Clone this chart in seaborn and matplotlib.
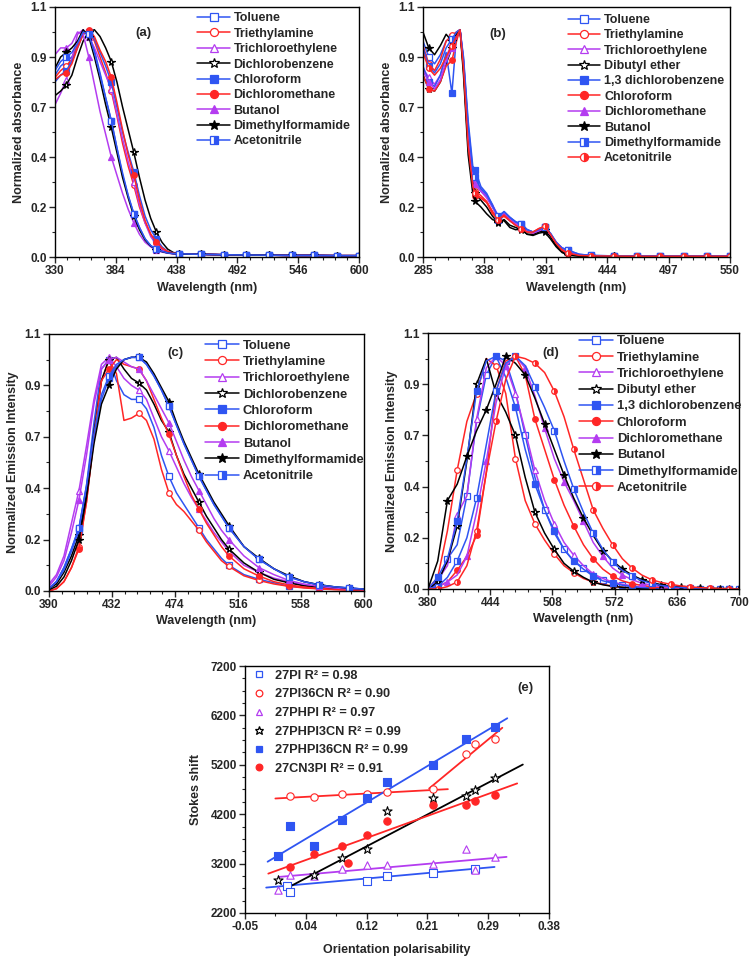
import numpy as np
import matplotlib
matplotlib.use("Agg")
import matplotlib.pyplot as plt
from matplotlib.lines import Line2D
from matplotlib.ticker import FixedLocator, AutoMinorLocator, FormatStrFormatter
import seaborn as sns

sns.set_style("white")
plt.rcParams['font.family'] = ['Liberation Sans', 'DejaVu Sans']
plt.rcParams['font.weight'] = 'bold'
plt.rcParams['axes.labelweight'] = 'bold'

# ---------------- Panel (a): absorbance ----------------
WL_A = [330, 335, 340, 345, 350, 355, 360, 365, 370, 375, 380, 385, 390, 395, 400, 405,
        410, 415, 420, 425, 430, 435, 440, 460, 480, 500, 520, 540, 560, 580, 600]
MARKS_A = [340, 360, 380, 400, 420, 440, 460, 480, 500, 520, 540, 560, 580, 600]
a_toluene = [0.80, 0.84, 0.86, 0.88, 0.93, 0.99, 0.98, 0.91, 0.81, 0.70, 0.60, 0.48, 0.36, 0.27, 0.19, 0.13,
             0.08, 0.05, 0.035, 0.025, 0.018, 0.015, 0.014, 0.012, 0.010, 0.009, 0.008, 0.007, 0.007, 0.006, 0.006]
a_triethylamine = [0.79, 0.82, 0.84, 0.87, 0.93, 0.99, 0.99, 0.95, 0.88, 0.81, 0.73, 0.62, 0.50, 0.40, 0.315, 0.22,
                   0.15, 0.10, 0.06, 0.035, 0.022, 0.016, 0.014, 0.012, 0.010, 0.009, 0.008, 0.007, 0.007, 0.006, 0.006]
a_trichloroethylene = [0.67, 0.72, 0.78, 0.87, 0.98, 1.00, 0.97, 0.92, 0.86, 0.80, 0.74, 0.63, 0.52, 0.42, 0.33, 0.23,
                       0.15, 0.09, 0.055, 0.03, 0.02, 0.015, 0.013, 0.012, 0.010, 0.009, 0.008, 0.007, 0.007, 0.006, 0.006]
a_dichlorobenzene = [0.71, 0.73, 0.757, 0.80, 0.88, 0.95, 0.99, 1.00, 0.97, 0.92, 0.86, 0.77, 0.66, 0.56, 0.46, 0.35,
                     0.25, 0.17, 0.11, 0.065, 0.035, 0.02, 0.015, 0.012, 0.010, 0.009, 0.008, 0.007, 0.007, 0.006, 0.006]
a_chloroform = [0.77, 0.80, 0.82, 0.86, 0.92, 0.98, 0.99, 0.96, 0.90, 0.84, 0.77, 0.66, 0.55, 0.46, 0.375, 0.27,
                0.18, 0.12, 0.08, 0.045, 0.025, 0.017, 0.014, 0.012, 0.010, 0.009, 0.008, 0.007, 0.007, 0.006, 0.006]
a_dichloromethane = [0.78, 0.80, 0.81, 0.85, 0.92, 0.98, 1.00, 0.97, 0.91, 0.86, 0.79, 0.68, 0.56, 0.45, 0.36, 0.25,
                     0.16, 0.10, 0.067, 0.04, 0.025, 0.017, 0.014, 0.012, 0.010, 0.009, 0.008, 0.007, 0.007, 0.006, 0.006]
a_butanol = [0.89, 0.92, 0.92, 0.94, 0.99, 0.98, 0.88, 0.76, 0.64, 0.54, 0.44, 0.36, 0.28, 0.21, 0.15, 0.10,
             0.065, 0.045, 0.03, 0.022, 0.017, 0.014, 0.013, 0.012, 0.010, 0.009, 0.008, 0.007, 0.007, 0.006, 0.006]
a_dmf = [0.83, 0.88, 0.90, 0.92, 0.95, 1.00, 0.97, 0.88, 0.78, 0.67, 0.57, 0.46, 0.35, 0.26, 0.18, 0.12,
         0.075, 0.048, 0.033, 0.024, 0.018, 0.015, 0.013, 0.012, 0.010, 0.009, 0.008, 0.007, 0.007, 0.006, 0.006]
a_acetonitrile = [0.82, 0.86, 0.88, 0.90, 0.94, 0.99, 0.98, 0.90, 0.80, 0.70, 0.60, 0.48, 0.37, 0.27, 0.19, 0.13,
                  0.08, 0.05, 0.035, 0.025, 0.018, 0.015, 0.014, 0.012, 0.010, 0.009, 0.008, 0.007, 0.007, 0.006, 0.006]

# ---------------- Panel (b): absorbance ----------------
WL_B = [285, 290, 295, 300, 305, 310, 314, 317, 320, 324, 328, 330, 335, 340, 345, 350, 355, 360,
        365, 370, 375, 380, 385, 390, 395, 400, 405, 410, 420, 430, 450, 470, 490, 510, 530, 550]
MARKS_B = [290, 310, 330, 350, 370, 390, 410, 430, 450, 470, 490, 510, 530, 550]
b_toluene = [0.95, 0.88, 0.85, 0.89, 0.95, 0.97, 0.99, 1.00, 0.86, 0.56, 0.36, 0.32, 0.29, 0.265, 0.22, 0.175, 0.195, 0.17,
             0.15, 0.14, 0.12, 0.11, 0.12, 0.13, 0.10, 0.06, 0.035, 0.02, 0.008, 0.005, 0.004, 0.004, 0.003, 0.003, 0.003, 0.003]
b_triethylamine = [0.93, 0.85, 0.82, 0.87, 0.95, 0.975, 0.99, 1.00, 0.84, 0.52, 0.33, 0.29, 0.27, 0.245, 0.20, 0.165, 0.18, 0.16,
                   0.14, 0.13, 0.115, 0.11, 0.125, 0.135, 0.10, 0.06, 0.033, 0.018, 0.008, 0.005, 0.004, 0.004, 0.003, 0.003, 0.003, 0.003]
b_trichloroethylene = [0.83, 0.79, 0.76, 0.80, 0.88, 0.94, 0.98, 1.00, 0.86, 0.56, 0.36, 0.33, 0.30, 0.27, 0.23, 0.18, 0.19, 0.165,
                       0.15, 0.135, 0.115, 0.105, 0.115, 0.125, 0.10, 0.065, 0.04, 0.025, 0.01, 0.006, 0.004, 0.004, 0.003, 0.003, 0.003, 0.003]
b_dibutylether = [0.80, 0.74, 0.73, 0.77, 0.85, 0.92, 0.97, 1.00, 0.83, 0.50, 0.32, 0.28, 0.25, 0.22, 0.18, 0.15, 0.165, 0.14,
                  0.13, 0.12, 0.10, 0.10, 0.11, 0.12, 0.09, 0.05, 0.025, 0.01, 0.005, 0.003, 0.003, 0.002, 0.002, 0.002, 0.002, 0.002]
b_dcb13 = [0.84, 0.77, 0.75, 0.80, 0.90, 0.72, 0.98, 1.00, 0.88, 0.60, 0.40, 0.385, 0.31, 0.28, 0.23, 0.165, 0.20, 0.175,
           0.155, 0.145, 0.12, 0.11, 0.12, 0.13, 0.105, 0.065, 0.04, 0.03, 0.012, 0.007, 0.005, 0.004, 0.004, 0.003, 0.003, 0.003]
b_chloroform = [0.80, 0.74, 0.73, 0.77, 0.84, 0.865, 0.95, 1.00, 0.82, 0.48, 0.31, 0.27, 0.26, 0.24, 0.20, 0.165, 0.18, 0.16,
                0.14, 0.125, 0.11, 0.105, 0.12, 0.13, 0.10, 0.06, 0.03, 0.015, 0.006, 0.004, 0.003, 0.003, 0.003, 0.002, 0.002, 0.002]
b_dichloromethane = [0.82, 0.77, 0.74, 0.78, 0.86, 0.92, 0.97, 1.00, 0.85, 0.55, 0.35, 0.32, 0.29, 0.26, 0.22, 0.17, 0.19, 0.16,
                     0.145, 0.13, 0.115, 0.105, 0.115, 0.125, 0.10, 0.065, 0.04, 0.025, 0.01, 0.006, 0.004, 0.004, 0.003, 0.003, 0.003, 0.003]
b_butanol = [0.99, 0.92, 0.89, 0.93, 0.98, 0.95, 0.98, 1.00, 0.80, 0.45, 0.28, 0.245, 0.22, 0.19, 0.165, 0.155, 0.16, 0.13,
             0.12, 0.125, 0.10, 0.095, 0.105, 0.11, 0.08, 0.045, 0.02, 0.008, 0.004, 0.003, 0.003, 0.002, 0.002, 0.002, 0.002, 0.002]
b_dmf = [0.92, 0.84, 0.81, 0.85, 0.92, 0.96, 0.99, 1.00, 0.87, 0.58, 0.38, 0.35, 0.30, 0.275, 0.225, 0.18, 0.20, 0.175,
         0.155, 0.145, 0.12, 0.11, 0.12, 0.13, 0.105, 0.065, 0.04, 0.03, 0.012, 0.007, 0.005, 0.004, 0.004, 0.003, 0.003, 0.003]
b_acetonitrile = [0.90, 0.83, 0.80, 0.83, 0.88, 0.93, 0.97, 1.00, 0.83, 0.49, 0.31, 0.28, 0.26, 0.24, 0.19, 0.165, 0.185, 0.16,
                  0.14, 0.125, 0.11, 0.11, 0.125, 0.135, 0.10, 0.06, 0.032, 0.017, 0.007, 0.005, 0.004, 0.003, 0.003, 0.003, 0.003, 0.003]

# ---------------- Panel (c): emission ----------------
WL_C = [390, 395, 400, 405, 410, 415, 420, 425, 430, 435, 440, 445, 450, 455, 460, 465, 470,
        475, 480, 485, 490, 495, 500, 505, 510, 520, 530, 540, 550, 560, 570, 580, 590, 600]
MARKS_C = [410, 430, 450, 470, 490, 510, 530, 550, 570, 590]
c_toluene = [0.01, 0.04, 0.10, 0.18, 0.27, 0.45, 0.72, 0.95, 0.99, 0.90, 0.84, 0.82, 0.82, 0.78, 0.70, 0.58, 0.49,
             0.42, 0.37, 0.32, 0.27, 0.22, 0.18, 0.14, 0.11, 0.07, 0.05, 0.035, 0.02, 0.015, 0.01, 0.008, 0.006, 0.004]
c_triethylamine = [0.0, 0.01, 0.04, 0.10, 0.19, 0.38, 0.65, 0.90, 0.99, 0.93, 0.73, 0.74, 0.76, 0.73, 0.65, 0.52, 0.42,
                   0.37, 0.34, 0.30, 0.26, 0.21, 0.17, 0.13, 0.105, 0.065, 0.045, 0.03, 0.02, 0.013, 0.009, 0.006, 0.004, 0.003]
c_trichloroethylene = [0.03, 0.07, 0.15, 0.29, 0.43, 0.62, 0.82, 0.97, 1.00, 0.96, 0.91, 0.88, 0.86, 0.82, 0.74, 0.66, 0.60,
                       0.53, 0.46, 0.40, 0.35, 0.30, 0.25, 0.21, 0.17, 0.11, 0.08, 0.055, 0.04, 0.025, 0.018, 0.012, 0.008, 0.005]
c_dichlorobenzene = [0.01, 0.03, 0.08, 0.15, 0.24, 0.42, 0.68, 0.90, 0.99, 1.00, 0.95, 0.91, 0.89, 0.86, 0.80, 0.73, 0.68,
                     0.58, 0.50, 0.44, 0.38, 0.32, 0.27, 0.22, 0.18, 0.12, 0.08, 0.05, 0.035, 0.022, 0.015, 0.01, 0.007, 0.005]
c_chloroform = [0.01, 0.04, 0.09, 0.17, 0.26, 0.44, 0.66, 0.82, 0.91, 0.96, 0.99, 1.00, 1.00, 0.97, 0.92, 0.86, 0.79,
                0.71, 0.63, 0.56, 0.49, 0.43, 0.37, 0.32, 0.27, 0.19, 0.135, 0.095, 0.06, 0.04, 0.026, 0.018, 0.013, 0.008]
c_dichloromethane = [0.0, 0.01, 0.04, 0.10, 0.18, 0.38, 0.66, 0.90, 0.95, 0.99, 0.97, 0.96, 0.95, 0.90, 0.82, 0.74, 0.67,
                     0.58, 0.49, 0.41, 0.35, 0.29, 0.24, 0.19, 0.15, 0.095, 0.064, 0.04, 0.026, 0.017, 0.011, 0.007, 0.005, 0.003]
c_butanol = [0.02, 0.06, 0.13, 0.25, 0.39, 0.58, 0.80, 0.95, 0.99, 1.00, 0.98, 0.96, 0.95, 0.90, 0.84, 0.78, 0.72,
             0.64, 0.56, 0.49, 0.43, 0.37, 0.31, 0.26, 0.22, 0.15, 0.10, 0.07, 0.045, 0.03, 0.02, 0.013, 0.009, 0.006]
c_dmf = [0.005, 0.02, 0.06, 0.13, 0.22, 0.40, 0.63, 0.80, 0.88, 0.95, 0.99, 1.00, 1.00, 0.98, 0.93, 0.87, 0.81,
         0.72, 0.64, 0.57, 0.50, 0.44, 0.38, 0.33, 0.28, 0.19, 0.14, 0.095, 0.065, 0.04, 0.027, 0.018, 0.012, 0.008]
c_acetonitrile = [0.01, 0.04, 0.10, 0.18, 0.27, 0.45, 0.67, 0.84, 0.92, 0.97, 0.99, 1.00, 1.00, 0.97, 0.92, 0.86, 0.79,
                  0.71, 0.63, 0.56, 0.49, 0.43, 0.37, 0.32, 0.27, 0.19, 0.135, 0.095, 0.06, 0.04, 0.026, 0.018, 0.013, 0.008]

# ---------------- Panel (d): emission ----------------
WL_D = [380, 390, 400, 410, 420, 430, 440, 450, 460, 470, 480, 490, 500, 510, 520, 530, 540,
        550, 560, 570, 580, 590, 600, 610, 620, 630, 640, 650, 660, 670, 680, 690, 700]
MARKS_D_EVEN = [400, 420, 440, 460, 480, 500, 520, 540, 560, 580, 600, 620, 640, 660, 680, 700]
MARKS_D_ODD = [390, 410, 430, 450, 470, 490, 510, 530, 550, 570, 590, 610, 630, 650, 670, 690]
d_toluene = [0.0, 0.02, 0.13, 0.19, 0.40, 0.72, 0.92, 1.00, 0.98, 0.85, 0.66, 0.48, 0.34, 0.24, 0.17, 0.12, 0.09,
             0.06, 0.04, 0.027, 0.018, 0.012, 0.008, 0.005, 0.003, 0.002, 0.001, 0.0, 0.0, 0.0, 0.0, 0.0, 0.0]
d_triethylamine = [0.0, 0.05, 0.25, 0.51, 0.72, 0.84, 0.99, 0.96, 0.84, 0.56, 0.38, 0.28, 0.21, 0.15, 0.10, 0.07, 0.045,
                   0.03, 0.02, 0.012, 0.008, 0.005, 0.003, 0.002, 0.001, 0.0, 0.0, 0.0, 0.0, 0.0, 0.0, 0.0, 0.0]
d_trichloroethylene = [0.0, 0.04, 0.10, 0.32, 0.40, 0.73, 0.95, 1.00, 0.96, 0.84, 0.68, 0.51, 0.38, 0.28, 0.20, 0.145, 0.10,
                       0.065, 0.045, 0.03, 0.02, 0.013, 0.008, 0.005, 0.003, 0.002, 0.001, 0.0, 0.0, 0.0, 0.0, 0.0, 0.0]
d_dibutylether = [0.0, 0.03, 0.12, 0.27, 0.55, 0.88, 0.99, 0.84, 0.76, 0.66, 0.48, 0.33, 0.24, 0.17, 0.11, 0.076, 0.05,
                  0.029, 0.018, 0.011, 0.007, 0.004, 0.003, 0.002, 0.001, 0.0, 0.0, 0.0, 0.0, 0.0, 0.0, 0.0, 0.0]
d_dcb13 = [0.0, 0.05, 0.13, 0.29, 0.56, 0.85, 0.98, 1.00, 0.91, 0.78, 0.60, 0.45, 0.34, 0.25, 0.17, 0.12, 0.085,
           0.055, 0.035, 0.025, 0.016, 0.01, 0.006, 0.004, 0.003, 0.002, 0.001, 0.0, 0.0, 0.0, 0.0, 0.0, 0.0]
d_chloroform = [0.0, 0.01, 0.03, 0.08, 0.14, 0.23, 0.50, 0.85, 0.98, 1.00, 0.92, 0.73, 0.60, 0.47, 0.36, 0.27, 0.19,
                0.13, 0.085, 0.055, 0.035, 0.023, 0.015, 0.01, 0.006, 0.004, 0.002, 0.001, 0.0, 0.0, 0.0, 0.0, 0.0]
d_dichloromethane = [0.0, 0.01, 0.03, 0.06, 0.14, 0.33, 0.55, 0.80, 0.96, 1.00, 0.95, 0.83, 0.69, 0.56, 0.46, 0.38, 0.29,
                     0.20, 0.14, 0.09, 0.06, 0.04, 0.025, 0.016, 0.01, 0.006, 0.004, 0.002, 0.001, 0.0, 0.0, 0.0, 0.0]
d_butanol = [0.0, 0.12, 0.38, 0.45, 0.57, 0.68, 0.77, 0.88, 1.00, 0.97, 0.92, 0.82, 0.71, 0.60, 0.49, 0.39, 0.305,
             0.23, 0.165, 0.12, 0.086, 0.06, 0.04, 0.028, 0.018, 0.012, 0.008, 0.005, 0.004, 0.003, 0.002, 0.001, 0.0]
d_dmf = [0.0, 0.01, 0.05, 0.12, 0.22, 0.39, 0.62, 0.85, 0.97, 1.00, 0.96, 0.87, 0.78, 0.68, 0.55, 0.43, 0.33,
         0.24, 0.17, 0.115, 0.08, 0.055, 0.036, 0.024, 0.015, 0.01, 0.006, 0.004, 0.002, 0.001, 0.0, 0.0, 0.0]
d_acetonitrile = [0.0, 0.0, 0.01, 0.03, 0.10, 0.25, 0.50, 0.72, 0.90, 1.00, 0.99, 0.97, 0.93, 0.85, 0.74, 0.60, 0.47,
                  0.34, 0.26, 0.19, 0.13, 0.09, 0.06, 0.04, 0.028, 0.02, 0.013, 0.009, 0.006, 0.004, 0.002, 0.001, 0.0]

# ---------------- Panel (e): Stokes shift ----------------
e_labels = ["27PI R² = 0.98", "27PI36CN R² = 0.90", "27PHPI R² = 0.97",
            "27PHPI3CN R² = 0.99", "27PHPI36CN R² = 0.99", "27CN3PI R² = 0.91"]
pi_x = [0.009, 0.014, 0.123, 0.151, 0.216, 0.275]
pi_y = [2741, 2626, 2842, 2950, 3011, 3100]
pi36cn_x = [0.014, 0.048, 0.087, 0.123, 0.151, 0.216, 0.262, 0.275, 0.304]
pi36cn_y = [4565, 4538, 4605, 4605, 4646, 4707, 5416, 5612, 5714]
phpi_x = [-0.003, 0.014, 0.048, 0.087, 0.123, 0.151, 0.216, 0.262, 0.275, 0.304]
phpi_y = [2659, 2964, 2950, 3085, 3166, 3166, 3200, 3504, 3078, 3335]
phpi3cn_x = [-0.003, 0.048, 0.087, 0.123, 0.151, 0.216, 0.262, 0.275, 0.304]
phpi3cn_y = [2862, 2963, 3322, 3504, 4261, 4518, 4572, 4686, 4923]
phpi36cn_x = [-0.003, 0.014, 0.048, 0.087, 0.123, 0.151, 0.216, 0.262, 0.304]
phpi36cn_y = [3355, 3963, 3551, 4078, 4531, 4855, 5193, 5714, 5970]
cn3pi_x = [0.014, 0.048, 0.087, 0.096, 0.123, 0.151, 0.216, 0.262, 0.275, 0.304]
cn3pi_y = [3132, 3403, 3565, 3214, 3774, 4065, 4382, 4382, 4470, 4585]
# fitted lines: slope, intercept, x-start, x-end
fit_slope = [1292, 775, 11873, 1260, 7496, 8567, 5188]
fit_intercept = [2740, 4523, 2221, 2932, 2634, 3392, 3085]
fit_x_start = [-0.020, -0.007, 0.2105, -0.0015, 0.008, -0.018, -0.017]
fit_x_end = [0.303, 0.237, 0.314, 0.320, 0.343, 0.321, 0.335]

XT_A = [330, 384, 438, 492, 546, 600]
XT_B = [285, 338, 391, 444, 497, 550]
XT_C = [390, 432, 474, 516, 558, 600]
XT_D = [380, 444, 508, 572, 636, 700]
XT_E = [-0.05, 0.036, 0.122, 0.208, 0.294, 0.38]
YT_E = [2200, 3200, 4200, 5200, 6200, 7200]
YT_N = [0.0, 0.22, 0.44, 0.66, 0.88, 1.1]

# ---------------- styling ----------------
BLUE = '#2f55f2'
RED = '#ff2626'
PURPLE = '#b43cf0'
BLACK = '#000000'

ST = {
    'Toluene': (BLUE, 's', 'open'),
    'Triethylamine': (RED, 'o', 'open'),
    'Trichloroethylene': (PURPLE, '^', 'open'),
    'Dichlorobenzene': (BLACK, '*', 'open'),
    'Dibutyl ether': (BLACK, '*', 'open'),
    'Chloroform_a': (BLUE, 's', 'full'),
    'Dichloromethane_a': (RED, 'o', 'full'),
    'Butanol_a': (PURPLE, '^', 'full'),
    'Dimethylformamide_a': (BLACK, '*', 'full'),
    'Acetonitrile_a': (BLUE, 's', 'half'),
    '1,3 dichlorobenzene': (BLUE, 's', 'full'),
    'Chloroform_b': (RED, 'o', 'full'),
    'Dichloromethane_b': (PURPLE, '^', 'full'),
    'Butanol_b': (BLACK, '*', 'full'),
    'Dimethylformamide_b': (BLUE, 's', 'half'),
    'Acetonitrile_b': (RED, 'o', 'half'),
}

fig = plt.figure(figsize=(7.51, 9.58), dpi=100)
fig.patch.set_facecolor('white')

FS_TICK = 8.5
FS_LAB = 9


def marker_kw(color, marker, fill, ms):
    kw = dict(marker=marker, markersize=ms, markeredgecolor=color, markeredgewidth=0.9)
    if fill == 'open':
        kw.update(markerfacecolor='white')
    elif fill == 'full':
        kw.update(markerfacecolor=color)
    else:
        kw.update(markerfacecolor=color, fillstyle='right', markerfacecoloralt='white')
    if marker == '*':
        kw['markersize'] = ms + 1.5
    return kw


def style_axes(ax, xt, yt, xfmt, yfmt, xminor, yminor):
    ax.set_xlim(xt[0], xt[-1])
    ax.set_ylim(yt[0], yt[-1])
    ax.xaxis.set_major_locator(FixedLocator(xt))
    ax.yaxis.set_major_locator(FixedLocator(yt))
    ax.xaxis.set_major_formatter(FormatStrFormatter(xfmt))
    ax.yaxis.set_major_formatter(FormatStrFormatter(yfmt))
    ax.xaxis.set_minor_locator(AutoMinorLocator(xminor))
    ax.yaxis.set_minor_locator(AutoMinorLocator(yminor))
    ax.tick_params(which='major', direction='out', length=4, width=1.0, labelsize=FS_TICK,
                   bottom=True, left=True, top=False, right=False, pad=2)
    ax.tick_params(which='minor', direction='out', length=2.2, width=0.8,
                   bottom=True, left=True, top=False, right=False)
    for lab in ax.get_xticklabels() + ax.get_yticklabels():
        lab.set_fontweight('bold')
    for sp in ax.spines.values():
        sp.set_color('black')
        sp.set_linewidth(1.0)
        sp.set_visible(True)


def spectra_panel(rect, wl, series, xt, ylabel, tag, tagpos, legpos, legfs, legsp):
    ax = fig.add_axes(rect)
    handles = []
    for name, key, vals, mk in series:
        color, marker, fill = ST[key]
        idx = [wl.index(m) for m in mk]
        kw = marker_kw(color, marker, fill, 4.0)
        sns.lineplot(x=wl, y=vals, ax=ax, color=color, linewidth=1.1, sort=False,
                     estimator=None, markevery=idx, legend=False, **kw)
        hkw = marker_kw(color, marker, fill, 5.8)
        handles.append(Line2D([], [], color=color, linewidth=1.1, label=name, **hkw))
    style_axes(ax, xt, YT_N, '%d', '%.1f', 5, 2)
    ax.set_xlabel('Wavelength (nm)', fontsize=FS_LAB, fontweight='bold', labelpad=3)
    ax.set_ylabel(ylabel, fontsize=FS_LAB, fontweight='bold', labelpad=4)
    ax.text(tagpos[0], tagpos[1], tag, transform=ax.transAxes, fontsize=9.5,
            fontweight='bold', ha='center', va='center')
    leg = ax.legend(handles=handles, loc='upper left', bbox_to_anchor=legpos, frameon=False,
                    fontsize=legfs, handlelength=2.6, handletextpad=0.3, labelspacing=legsp,
                    borderaxespad=0, borderpad=0, numpoints=1)
    for t in leg.get_texts():
        t.set_fontweight('bold')
    return ax


series_a = [
    ('Toluene', 'Toluene', a_toluene, MARKS_A),
    ('Triethylamine', 'Triethylamine', a_triethylamine, MARKS_A),
    ('Trichloroethylene', 'Trichloroethylene', a_trichloroethylene, MARKS_A),
    ('Dichlorobenzene', 'Dichlorobenzene', a_dichlorobenzene, MARKS_A),
    ('Chloroform', 'Chloroform_a', a_chloroform, MARKS_A),
    ('Dichloromethane', 'Dichloromethane_a', a_dichloromethane, MARKS_A),
    ('Butanol', 'Butanol_a', a_butanol, MARKS_A),
    ('Dimethylformamide', 'Dimethylformamide_a', a_dmf, MARKS_A),
    ('Acetonitrile', 'Acetonitrile_a', a_acetonitrile, MARKS_A),
]
series_b = [
    ('Toluene', 'Toluene', b_toluene, MARKS_B),
    ('Triethylamine', 'Triethylamine', b_triethylamine, MARKS_B),
    ('Trichloroethylene', 'Trichloroethylene', b_trichloroethylene, MARKS_B),
    ('Dibutyl ether', 'Dibutyl ether', b_dibutylether, MARKS_B),
    ('1,3 dichlorobenzene', '1,3 dichlorobenzene', b_dcb13, MARKS_B),
    ('Chloroform', 'Chloroform_b', b_chloroform, MARKS_B),
    ('Dichloromethane', 'Dichloromethane_b', b_dichloromethane, MARKS_B),
    ('Butanol', 'Butanol_b', b_butanol, MARKS_B),
    ('Dimethylformamide', 'Dimethylformamide_b', b_dmf, MARKS_B),
    ('Acetonitrile', 'Acetonitrile_b', b_acetonitrile, MARKS_B),
]
series_c = [
    ('Toluene', 'Toluene', c_toluene, MARKS_C),
    ('Triethylamine', 'Triethylamine', c_triethylamine, MARKS_C),
    ('Trichloroethylene', 'Trichloroethylene', c_trichloroethylene, MARKS_C),
    ('Dichlorobenzene', 'Dichlorobenzene', c_dichlorobenzene, MARKS_C),
    ('Chloroform', 'Chloroform_a', c_chloroform, MARKS_C),
    ('Dichloromethane', 'Dichloromethane_a', c_dichloromethane, MARKS_C),
    ('Butanol', 'Butanol_a', c_butanol, MARKS_C),
    ('Dimethylformamide', 'Dimethylformamide_a', c_dmf, MARKS_C),
    ('Acetonitrile', 'Acetonitrile_a', c_acetonitrile, MARKS_C),
]
series_d = [
    ('Toluene', 'Toluene', d_toluene, MARKS_D_EVEN),
    ('Triethylamine', 'Triethylamine', d_triethylamine, MARKS_D_ODD),
    ('Trichloroethylene', 'Trichloroethylene', d_trichloroethylene, MARKS_D_ODD),
    ('Dibutyl ether', 'Dibutyl ether', d_dibutylether, MARKS_D_ODD),
    ('1,3 dichlorobenzene', '1,3 dichlorobenzene', d_dcb13, MARKS_D_ODD),
    ('Chloroform', 'Chloroform_b', d_chloroform, MARKS_D_ODD),
    ('Dichloromethane', 'Dichloromethane_b', d_dichloromethane, MARKS_D_EVEN),
    ('Butanol', 'Butanol_b', d_butanol, MARKS_D_EVEN),
    ('Dimethylformamide', 'Dimethylformamide_b', d_dmf, MARKS_D_ODD),
    ('Acetonitrile', 'Acetonitrile_b', d_acetonitrile, MARKS_D_ODD),
]

spectra_panel([0.0732, 0.7317, 0.405, 0.261], WL_A, series_a, XT_A,
              'Normalized absorbance', '(a)', (0.29, 0.896), (0.468, 0.978), 9, 0.27)
spectra_panel([0.5632, 0.7317, 0.4088, 0.261], WL_B, series_b, XT_B,
              'Normalized absorbance', '(b)', (0.244, 0.892), (0.472, 0.972), 9, 0.27)
spectra_panel([0.0652, 0.3831, 0.4194, 0.2683], WL_C, series_c, XT_C,
              'Normalized Emission Intensity', '(c)', (0.403, 0.926), (0.495, 0.978), 9.4, 0.32)
spectra_panel([0.5699, 0.3852, 0.4141, 0.2672], WL_D, series_d, XT_D,
              'Normalized Emission Intensity', '(d)', (0.395, 0.922), (0.486, 0.992), 9.4, 0.32)

# ---------------- Panel (e) ----------------
axe = fig.add_axes([0.3262, 0.047, 0.4048, 0.2578])
e_sets = [
    (pi_x, pi_y, BLUE, 's', 'open'),
    (pi36cn_x, pi36cn_y, RED, 'o', 'open'),
    (phpi_x, phpi_y, PURPLE, '^', 'open'),
    (phpi3cn_x, phpi3cn_y, BLACK, '*', 'open'),
    (phpi36cn_x, phpi36cn_y, BLUE, 's', 'full'),
    (cn3pi_x, cn3pi_y, RED, 'o', 'full'),
]
fit_colors = [BLUE, RED, RED, PURPLE, BLACK, BLUE, RED]
for k in range(len(fit_slope)):
    xx = np.array([fit_x_start[k], fit_x_end[k]])
    yy = fit_slope[k] * xx + fit_intercept[k]
    sns.lineplot(x=xx, y=yy, ax=axe, color=fit_colors[k], linewidth=1.3, sort=False,
                 estimator=None, legend=False)
e_handles = []
for (xs, ys, color, marker, fill), lab in zip(e_sets, e_labels):
    size = 28 if marker != '*' else 48
    face = 'white' if fill == 'open' else color
    sns.scatterplot(x=xs, y=ys, ax=axe, marker=marker, s=size, facecolor=face,
                    edgecolor=color, linewidth=0.8, legend=False, zorder=3)
    e_handles.append(Line2D([], [], linestyle='none', label=lab,
                            **marker_kw(color, marker, fill, 4.8)))
style_axes(axe, XT_E, YT_E, '%.2f', '%d', 2, 4)
axe.set_xlabel('Orientation polarisability', fontsize=FS_LAB, fontweight='bold', labelpad=8)
axe.set_ylabel('Stokes shift', fontsize=FS_LAB, fontweight='bold', labelpad=6)
axe.text(0.924, 0.911, '(e)', transform=axe.transAxes, fontsize=9.5, fontweight='bold',
         ha='center', va='center')
leg = axe.legend(handles=e_handles, loc='upper left', bbox_to_anchor=(0.02, 0.985), frameon=False,
                 fontsize=9.2, handlelength=1.2, handletextpad=0.7, labelspacing=0.52,
                 borderaxespad=0, borderpad=0, numpoints=1)
for t in leg.get_texts():
    t.set_fontweight('bold')

fig.savefig('out.png', dpi=100, facecolor='white')
